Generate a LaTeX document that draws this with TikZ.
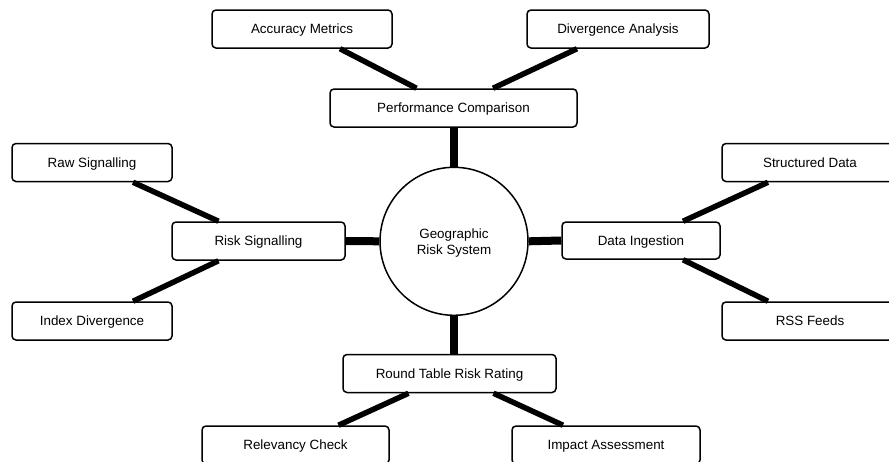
\documentclass[tikz,border=0pt]{standalone}
\usepackage{fontspec}
\setmainfont{Liberation Sans}
\usetikzlibrary{calc}
\begin{document}
\begin{tikzpicture}[x=1pt,y=-1pt,
  box/.style={draw=black,line width=1.5pt,rounded corners=4pt,fill=white,inner sep=0pt,
    minimum height=38pt,text height=9.6pt,text depth=0pt,font=\fontsize{13.4}{16}\selectfont},
  hub/.style={draw=black,line width=1.5pt,circle,fill=white,minimum size=148pt,inner sep=0pt,
    align=center,font=\fontsize{13.4}{16}\selectfont},
  link/.style={line width=5.5pt,black},
  bar/.style={line width=8pt,black}]
\clip (0,0) rectangle (889,461);
\fill[white] (0,0) rectangle (889,461);
\coordinate (cC) at (454,241.3);
\path (302,29) coordinate (pacc) (618,29) coordinate (pdiv) (453.5,108) coordinate (pperf)
      (92,162.5) coordinate (praw) (258.5,241) coordinate (prisk) (92,321) coordinate (pidx)
      (641,240.5) coordinate (pdata) (810,162.5) coordinate (pstruct) (810,321) coordinate (prss)
      (449.5,373.5) coordinate (pround) (295.5,445) coordinate (prel) (606,445) coordinate (pimp);
\node[box,minimum width=180pt] (acc) at (pacc) {Accuracy Metrics};
\node[box,minimum width=182pt] (div) at (pdiv) {Divergence Analysis};
\node[box,minimum width=247pt] (perf) at (pperf) {Performance Comparison};
\node[box,minimum width=160pt] (raw) at (praw) {Raw Signalling};
\node[box,minimum width=173pt] (risk) at (prisk) {Risk Signalling};
\node[box,minimum width=160pt] (idx) at (pidx) {Index Divergence};
\node[box,minimum width=158pt,minimum height=37pt] (data) at (pdata) {Data Ingestion};
\node[box,minimum width=176pt] (struct) at (pstruct) {Structured Data};
\node[box,minimum width=176pt] (rss) at (prss) {RSS Feeds};
\node[box,minimum width=213pt] (round) at (pround) {Round Table Risk Rating};
\node[box,minimum width=187pt] (rel) at (prel) {Relevancy Check};
\node[box,minimum width=188pt] (imp) at (pimp) {Impact Assessment};
\node[hub] (hub) at (cC) {\rule{0pt}{13pt}Geographic\\Risk System};
% links
\draw[link] ($(acc.south)+(38,0)$) -- ($(perf.north)+(-37,0)$);
\draw[link] ($(div.south)+(-41,0)$) -- ($(perf.north)+(39.5,0)$);
\draw[link] ($(raw.south)+(41,0)$) -- ($(risk.north)+(-40,0)$);
\draw[link] ($(risk.south)+(-40,0)$) -- ($(idx.north)+(41,0)$);
\draw[link] ($(data.north)+(42,0)$) -- ($(struct.south)+(-42,0)$);
\draw[link] ($(data.south)+(42,0)$) -- ($(rss.north)+(-42,0)$);
\draw[link] ($(round.south)+(-41,0)$) -- ($(rel.north)+(43,0)$);
\draw[link] ($(round.south)+(44,0)$) -- ($(imp.north)+(-43,0)$);
% bars
\draw[bar] (hub.north) -- (hub.north |- perf.south);
\draw[bar] (hub.south) -- (hub.south |- round.north);
\draw[bar] (hub.west) -- (risk.east);
\draw[bar] (hub.east) -- (data.west);
\end{tikzpicture}
\end{document}
